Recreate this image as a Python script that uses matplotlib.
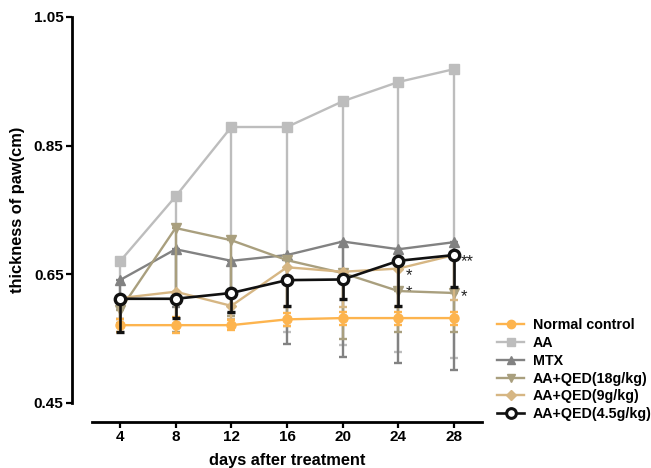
import matplotlib.pyplot as plt
from matplotlib.lines import Line2D

plt.rcParams['font.family'] = ['Liberation Sans', 'DejaVu Sans']
plt.rcParams['font.weight'] = 'bold'

# Data
days = [4, 8, 12, 16, 20, 24, 28]

normal = [0.571, 0.571, 0.571, 0.580, 0.582, 0.582, 0.582]
normal_err = [0.01, 0.012, 0.008, 0.01, 0.01, 0.01, 0.01]

aa = [0.670, 0.771, 0.879, 0.879, 0.919, 0.949, 0.969]
aa_low = [0.60, 0.62, 0.59, 0.56, 0.54, 0.53, 0.52]

mtx = [0.641, 0.689, 0.671, 0.680, 0.701, 0.689, 0.700]
mtx_low = [0.58, 0.60, 0.59, 0.541, 0.521, 0.512, 0.501]

qed18 = [0.594, 0.722, 0.703, 0.672, 0.652, 0.624, 0.621]
qed18_low = [0.575, 0.56, 0.585, 0.57, 0.55, 0.561, 0.561]

qed9 = [0.613, 0.623, 0.601, 0.661, 0.654, 0.659, 0.680]
qed9_low = [0.58, 0.57, 0.58, 0.60, 0.60, 0.60, 0.610]

qed45 = [0.612, 0.612, 0.621, 0.641, 0.642, 0.671, 0.680]
qed45_low = [0.561, 0.582, 0.591, 0.601, 0.611, 0.601, 0.631]

labels = ['Normal control', 'AA', 'MTX', 'AA+QED(18g/kg)', 'AA+QED(9g/kg)', 'AA+QED(4.5g/kg)']

# star annotations: (day, y, text)
stars = [(28, 0.670, '**'), (24, 0.648, '*'), (24, 0.622, '*'), (28, 0.615, '*')]

c_normal = '#FDB44E'
c_aa = '#BDBDBD'
c_mtx = '#828282'
c_18 = '#A99F7E'
c_9 = '#D6B683'
c_45 = '#111111'

W, H = 651, 468
fig = plt.figure(figsize=(W / 100, H / 100), dpi=100)
ax = fig.add_axes([92 / W, 1 - 403 / H, (482 - 92) / W, (403 - 17) / H])


def lower_err(vals, low):
    return [[v - l for v, l in zip(vals, low)], [0] * len(vals)]


series = [
    (aa, lower_err(aa, aa_low), c_aa, 's', 2),
    (mtx, lower_err(mtx, mtx_low), c_mtx, '^', 3),
    (qed18, lower_err(qed18, qed18_low), c_18, 'v', 4),
    (qed9, lower_err(qed9, qed9_low), c_9, 'D', 5),
    (normal, normal_err, c_normal, 'o', 6),
]

for vals, err, col, mk, z in series:
    ms = 5.5 if mk == 'D' else 6.5
    ax.errorbar(days, vals, yerr=err, color=col, marker=mk, ms=ms, mfc=col, mec=col,
                lw=1.7, elinewidth=1.7, capsize=3, capthick=1.7, zorder=z,
                clip_on=False)

ax.errorbar(days, qed45, yerr=lower_err(qed45, qed45_low), color=c_45, marker='o', ms=7.5,
            mfc='white', mec=c_45, mew=2.4, lw=1.9, elinewidth=1.9, capsize=3,
            capthick=1.9, zorder=7, clip_on=False)

for d, y, t in stars:
    ax.annotate(t, (d, y), xytext=(5, 0), textcoords='offset points', ha='left',
                va='center', fontsize=12, color='#222222', fontweight='normal')

ax.set_xlim(2, 30)
ax.set_ylim(0.45, 1.05)
ax.set_xticks(days)
ax.set_yticks([0.45, 0.65, 0.85, 1.05])
ax.set_yticklabels(['0.45', '0.65', '0.85', '1.05'])

for s in ['top', 'right']:
    ax.spines[s].set_visible(False)
ax.spines['left'].set_position(('outward', 14.5))
ax.spines['bottom'].set_position(('outward', 13.7))
ax.spines['left'].set_linewidth(2)
ax.spines['bottom'].set_linewidth(2)
ax.tick_params(axis='both', width=1.6, length=4, labelsize=11, pad=2)
for lbl in ax.get_xticklabels() + ax.get_yticklabels():
    lbl.set_fontweight('bold')

ax.set_ylabel('thickness of paw(cm)', fontsize=11.8, fontweight='bold', labelpad=6)
ax.set_xlabel('days after treatment', fontsize=11.8, fontweight='bold', labelpad=6)

# legend
handles = [
    Line2D([], [], color=c_normal, marker='o', ms=6, lw=1.7),
    Line2D([], [], color=c_aa, marker='s', ms=6, lw=1.7),
    Line2D([], [], color=c_mtx, marker='^', ms=6, lw=1.7),
    Line2D([], [], color=c_18, marker='v', ms=6, lw=1.7),
    Line2D([], [], color=c_9, marker='D', ms=5, lw=1.7),
    Line2D([], [], color=c_45, marker='o', ms=7, mfc='white', mew=2.2, lw=1.9),
]
fig.legend(handles, labels, loc='upper left', bbox_to_anchor=(497 / W, 1 - 318 / H),
           frameon=False, prop={'weight': 'bold', 'size': 10.3},
           handlelength=1.9, handletextpad=0.6, labelspacing=0.27, borderpad=0,
           borderaxespad=0)

fig.savefig('out.png', dpi=100)
